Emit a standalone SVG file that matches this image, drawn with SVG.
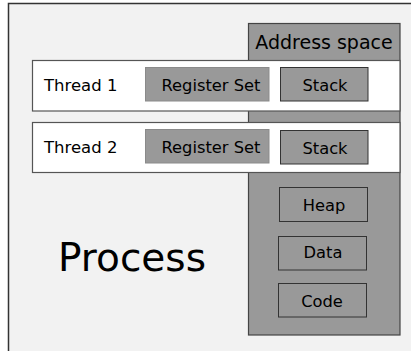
<svg xmlns="http://www.w3.org/2000/svg" width="411" height="351" viewBox="0 0 411 351">
<style>
text{font-family:"DejaVu Sans",sans-serif;fill:#000}
.box{fill:#999999;stroke:#333333;stroke-width:1}
.reg{fill:#999999;stroke:#8a8a8a;stroke-width:1}
.thread{fill:#ffffff;stroke:#555555;stroke-width:1.2}
.lbl{font-size:16.3px;text-anchor:middle}
</style>
<rect width="411" height="351" fill="#ffffff"/>
<g id="process">
<rect x="8.5" y="3.5" width="420" height="370" fill="#f2f2f2" stroke="#333333" stroke-width="1.5"/>
<text x="132" y="271" font-size="39" text-anchor="middle">Process</text>
</g>
<g id="address-space">
<rect x="248.5" y="23.5" width="151.5" height="311.5" fill="#999999" stroke="#444444" stroke-width="1.2"/>
<text x="324" y="49" font-size="19" text-anchor="middle">Address space</text>
</g>
<g id="thread1">
<rect class="thread" x="32.5" y="60.5" width="367.5" height="50.5"/>
<text x="44" y="91" font-size="16.5">Thread 1</text>
</g>
<g id="regset1">
<rect class="reg" x="145.5" y="67.5" width="123.5" height="33.5"/>
<text class="lbl" x="211" y="91">Register Set</text>
</g>
<g id="stack1">
<rect class="box" x="280.5" y="67.5" width="87.5" height="33.5"/>
<text class="lbl" x="325" y="91">Stack</text>
</g>
<g id="thread2">
<rect class="thread" x="32.5" y="122.5" width="367.5" height="50"/>
<text x="44" y="153" font-size="16.5">Thread 2</text>
</g>
<g id="regset2">
<rect class="reg" x="145.5" y="129.5" width="123.5" height="33.5"/>
<text class="lbl" x="211" y="153">Register Set</text>
</g>
<g id="stack2">
<rect class="box" x="280.5" y="130.5" width="87.5" height="33.5"/>
<text class="lbl" x="325" y="154">Stack</text>
</g>
<g id="heap">
<rect class="box" x="279.5" y="187.5" width="88" height="34"/>
<text class="lbl" x="324" y="211">Heap</text>
</g>
<g id="data">
<rect class="box" x="278.5" y="236.5" width="88" height="33.5"/>
<text class="lbl" x="323" y="258">Data</text>
</g>
<g id="code">
<rect class="box" x="278.5" y="283.5" width="88" height="33.5"/>
<text class="lbl" x="322" y="306.5">Code</text>
</g>
<g id="connectors"></g>
</svg>
